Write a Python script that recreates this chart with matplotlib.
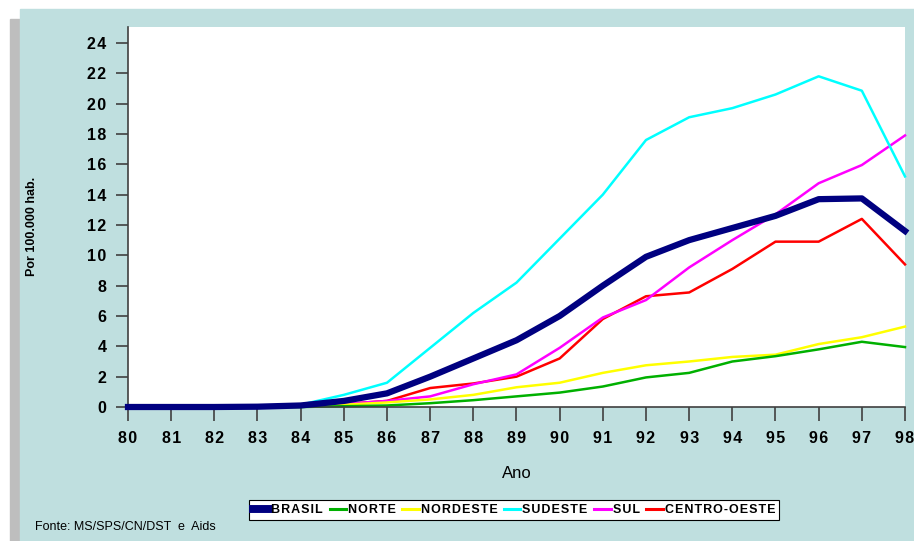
import matplotlib
matplotlib.use('Agg')
import matplotlib.pyplot as plt
from matplotlib.patches import Rectangle
from matplotlib.lines import Line2D

plt.rcParams['font.family'] = ['Liberation Sans', 'DejaVu Sans']

# Taxa de incidencia de AIDS por 100.000 hab., por regiao
anos = list(range(80, 99))
brasil = [0, 0, 0, 0.02, 0.1, 0.4, 0.9, 2.0, 3.2, 4.4, 6.0, 8.0, 9.9, 11.0, 11.8, 12.6, 13.7, 13.75, 11.6]
norte = [0, 0, 0, 0, 0, 0.05, 0.1, 0.25, 0.45, 0.7, 0.95, 1.35, 1.95, 2.25, 3.0, 3.35, 3.8, 4.3, 3.95]
nordeste = [0, 0, 0, 0, 0.05, 0.15, 0.3, 0.5, 0.8, 1.3, 1.6, 2.25, 2.75, 3.0, 3.3, 3.45, 4.15, 4.6, 5.3]
sudeste = [0, 0, 0, 0.03, 0.15, 0.8, 1.6, 3.9, 6.2, 8.2, 11.1, 14.0, 17.6, 19.1, 19.7, 20.6, 21.8, 20.85, 15.2]
sul = [0, 0, 0, 0, 0.05, 0.2, 0.4, 0.7, 1.5, 2.15, 3.9, 5.9, 7.05, 9.2, 11.0, 12.7, 14.75, 15.95, 17.9]
centro_oeste = [0, 0, 0, 0, 0.05, 0.2, 0.4, 1.25, 1.55, 2.0, 3.2, 5.8, 7.3, 7.55, 9.1, 10.9, 10.9, 12.4, 9.4]

series = [
    ('BRASIL', brasil, '#000080', 4.5),
    ('NORTE', norte, '#00B000', 1.8),
    ('NORDESTE', nordeste, '#FFFF00', 1.8),
    ('SUDESTE', sudeste, '#00FFFF', 1.8),
    ('SUL', sul, '#FF00FF', 1.8),
    ('CENTRO-OESTE', centro_oeste, '#FF0000', 1.8),
]


def spaced(s):
    # imitate the wide letter spacing of the original
    return '\u200a'.join(s)


fig = plt.figure(figsize=(9.14, 5.41), dpi=100)
fig.patch.set_facecolor('white')

# shadow and teal panel, behind the axes
fig.patches.append(Rectangle((10 / 914, 0), 10 / 914, 1 - 19 / 541,
                             transform=fig.transFigure, color='#BEBEBE', zorder=-10))
fig.patches.append(Rectangle((20 / 914, 0), 1, 1 - 9 / 541,
                             transform=fig.transFigure, color='#BFDFDF', zorder=-10))

ax = fig.add_axes([128 / 914, 1 - 407 / 541, (905 - 128) / 914, (407 - 27) / 541])
ax.set_facecolor('white')

# draw the thin lines first, then Brasil on top
for name, vals, color, lw in series[::-1]:
    ax.plot(anos, vals, color=color, lw=lw, clip_on=False,
            solid_joinstyle='round', zorder=3 if name == 'BRASIL' else 2)

ax.set_xlim(80, 98)
ax.set_ylim(0, 25.05)
ax.set_xticks(anos)
ax.set_xticklabels([spaced(str(a)) for a in anos])
ax.set_yticks(range(0, 25, 2))
ax.set_yticklabels([spaced(str(v)) for v in range(0, 25, 2)])

for side in ['top', 'right']:
    ax.spines[side].set_visible(False)
for side in ['left', 'bottom']:
    ax.spines[side].set_color('#404040')
    ax.spines[side].set_linewidth(1.2)
ax.tick_params(axis='both', direction='out', width=1.2, color='#404040', labelsize=11.5)
ax.tick_params(axis='x', length=10, pad=7)
ax.tick_params(axis='y', length=8.6, pad=7)
for lab in ax.get_xticklabels() + ax.get_yticklabels():
    lab.set_fontweight('bold')

ax.set_xlabel('Ano', fontsize=12, labelpad=15)
fig.text(32 / 914, 1 - 226 / 541, 'Por 100.000 hab.', rotation=90, fontsize=9,
         fontweight='bold', ha='center', va='center')

handles = [Line2D([], [], color=c, lw=(lw + 1.2 if n == 'BRASIL' else 2.2)) for n, v, c, lw in series]
labels = [spaced(n) for n, v, c, lw in series]
leg = fig.legend(handles, labels, loc='center', bbox_to_anchor=(514 / 914, 1 - 510 / 541),
                 ncol=6, frameon=True, fancybox=False, handlelength=1.3, handletextpad=0.15,
                 columnspacing=0.55, borderpad=0.3, borderaxespad=0,
                 prop={'weight': 'bold', 'size': 9})
leg.get_frame().set_edgecolor('black')
leg.get_frame().set_linewidth(0.8)
leg.get_frame().set_facecolor('white')
leg.get_frame().set_alpha(1)

fig.text(35 / 914, 1 - 527 / 541, 'Fonte: MS/SPS/CN/DST  e  Aids', fontsize=9,
         ha='left', va='center')

plt.savefig('out.png', dpi=100)
